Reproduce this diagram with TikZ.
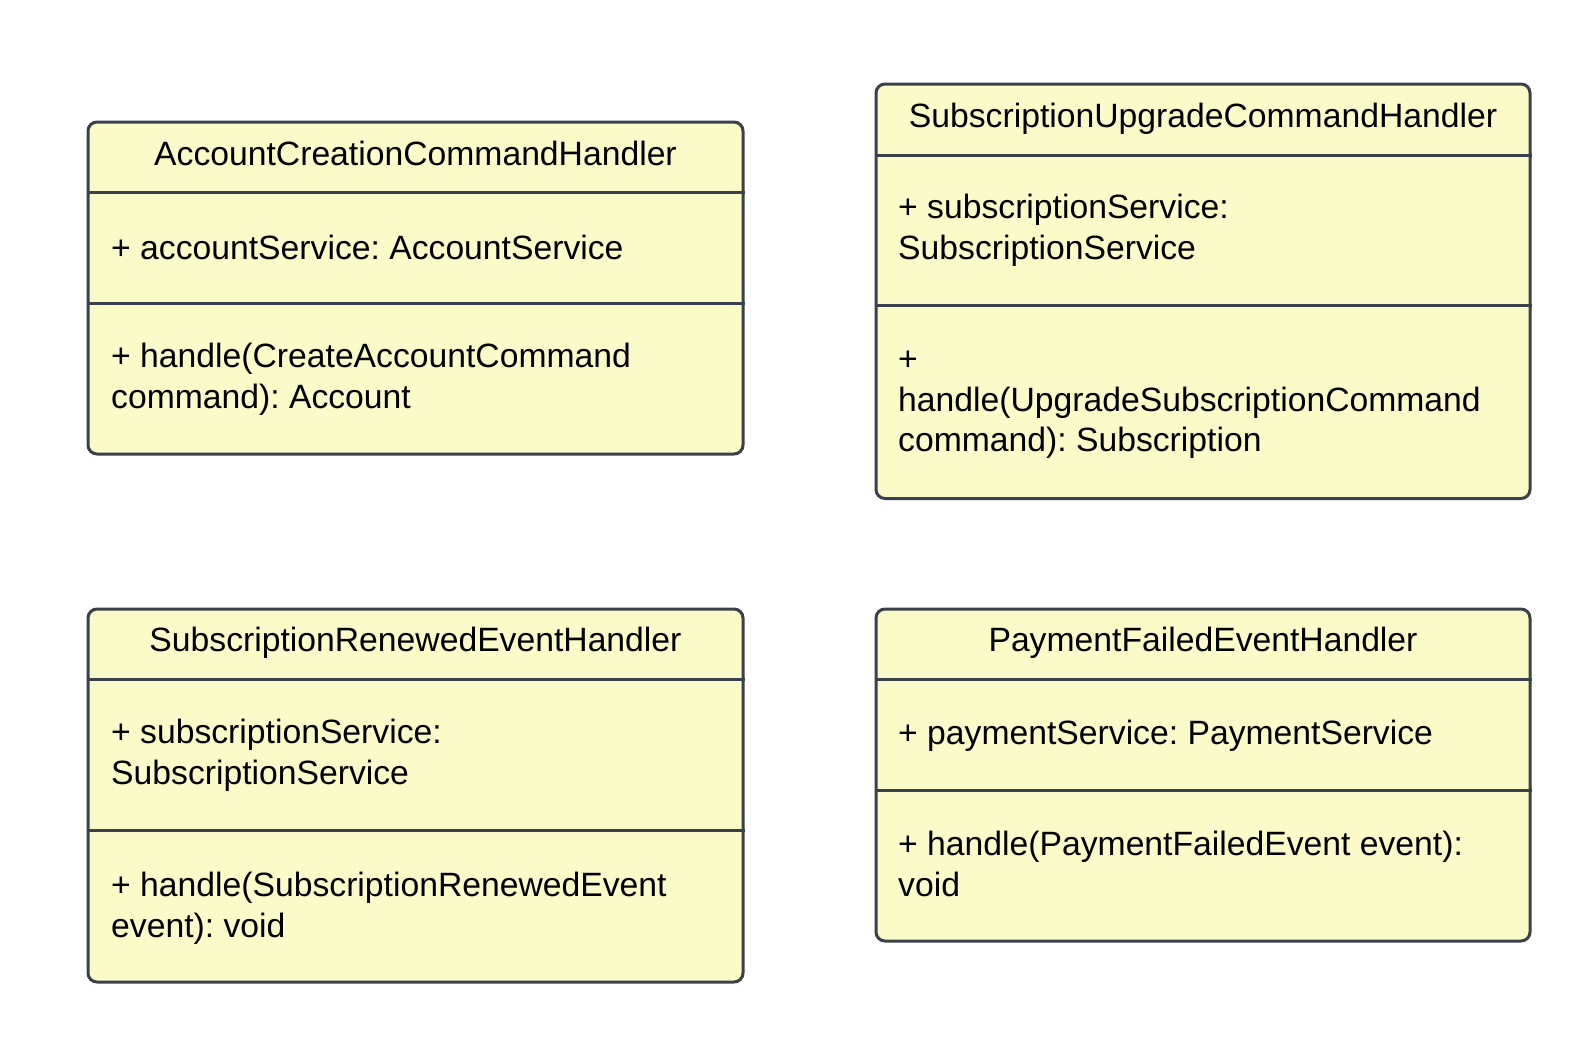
\documentclass[tikz,border=0pt]{standalone}
\usepackage{fontspec}
\setmainfont{Liberation Sans}
\usepackage{tikz}
\usetikzlibrary{calc}
\definecolor{umlfill}{HTML}{FBFAC9}
\definecolor{umlline}{HTML}{3A414A}
\tikzset{Cls/.style={draw=umlline,fill=umlfill,line width=3pt,rounded corners=9pt,inner sep=0pt},
  Sep/.style={draw=umlline,line width=3pt},
  Ttl/.style={inner sep=0pt,font=\fontsize{33.7}{40.6}\selectfont},
  Mem/.style={inner sep=0pt,anchor=west,align=left,font=\fontsize{33.7}{40.6}\selectfont}}
\frenchspacing

\begin{document}
\begin{tikzpicture}[x=1pt,y=-1pt]
    \useasboundingbox (0,0) rectangle (1592,1039);
    % class boxes
    \node[Cls,minimum width=655pt,minimum height=332pt] (C1) at (415.5,288) {};
    \node[Cls,minimum width=654pt,minimum height=414.5pt] (C2) at (1203,291.25) {};
    \node[Cls,minimum width=655pt,minimum height=373pt] (C3) at (415.5,795.5) {};
    \node[Cls,minimum width=654pt,minimum height=332pt] (C4) at (1203,775) {};
    % compartments
    \draw[Sep] (C1.west |- 0,192) -- (C1.east |- 0,192);
    \draw[Sep] (C1.west |- 0,303) -- (C1.east |- 0,303);
    \draw[Sep] (C2.west |- 0,155.5) -- (C2.east |- 0,155.5);
    \draw[Sep] (C2.west |- 0,305.5) -- (C2.east |- 0,305.5);
    \draw[Sep] (C3.west |- 0,679) -- (C3.east |- 0,679);
    \draw[Sep] (C3.west |- 0,830.5) -- (C3.east |- 0,830.5);
    \draw[Sep] (C4.west |- 0,679) -- (C4.east |- 0,679);
    \draw[Sep] (C4.west |- 0,790) -- (C4.east |- 0,790);
    % names
    \node[Ttl] (N1) at (415.5,153) {AccountCreationCommandHandler};
    \node[Ttl] (N2) at (1203,119) {SubscriptionUpgradeCommandHandler};
    \node[Ttl] (N3) at (415.5,643) {SubscriptionRenewedEventHandler};
    \node[Ttl] (N4) at (1203,643) {PaymentFailedEventHandler};
    % attributes
    \node[Mem] (A1) at (111,247) {+ accountService: AccountService};
    \node[Mem] (A2) at (898,230) {+ subscriptionService:\\SubscriptionService};
    \node[Mem] (A3) at (111,755) {+ subscriptionService:\\SubscriptionService};
    \node[Mem] (A4) at (898,736) {+ paymentService: PaymentService};
    % operations
    \node[Mem] (M1) at (111,379) {+ handle(CreateAccountCommand\\command): Account};
    \node[Mem] (M2) at (898,405) {+\\handle(UpgradeSubscriptionCommand\\command): Subscription};
    \node[Mem] (M3) at (111,908) {+ handle(SubscriptionRenewedEvent\\event): void};
    \node[Mem] (M4) at (898,864) {+ handle(PaymentFailedEvent event):\\void};
  \end{tikzpicture}
\end{document}
